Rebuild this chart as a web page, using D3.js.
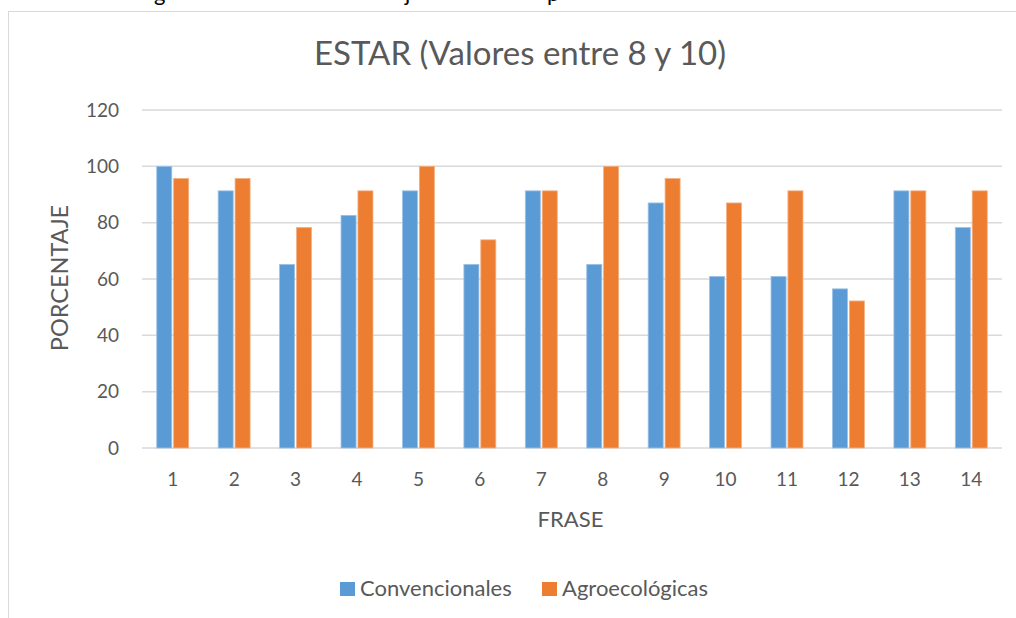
<!DOCTYPE html>
<html>
<head>
<meta charset="utf-8">
<script src="https://d3js.org/d3.v7.min.js"></script>
<style>
  body { margin: 0; background: #fff; }
  svg { display: block; font-family: "Lato", "Open Sans", sans-serif; }
</style>
</head>
<body>
<svg id="chart" width="1016" height="618"></svg>
<script>
var frases = ["1","2","3","4","5","6","7","8","9","10","11","12","13","14"];
var convencionales = [100, 91.3, 65.2, 82.6, 91.3, 65.2, 91.3, 65.2, 87.0, 60.9, 60.9, 56.5, 91.3, 78.3];
var agroecologicas = [95.7, 95.7, 78.3, 91.3, 100, 73.9, 91.3, 100, 95.7, 87.0, 91.3, 52.2, 91.3, 91.3];
var seriesNames = ["Convencionales", "Agroecológicas"];
var colors = ["#5b9bd5", "#ed7d31"];
var yTicks = [0, 20, 40, 60, 80, 100, 120];

var svg = d3.select("#chart");
var margin = {left: 142, right: 14, top: 110, bottom: 170};
var width = 1016 - margin.left - margin.right,
    height = 618 - margin.top - margin.bottom;

// bits of the page text above the chart, cut at the top edge
svg.append("g").attr("font-size", 22).attr("fill", "#000")
  .selectAll("text").data([["g", 154], ["j", 405], ["p", 547]]).join("text")
  .attr("x", function(d) { return d[1]; }).attr("y", 1).text(function(d) { return d[0]; });

// chart frame
svg.append("rect").attr("x", 8.5).attr("y", 11.5).attr("width", 1030).attr("height", 640)
  .attr("fill", "none").attr("stroke", "#d9d9d9");

var g = svg.append("g").attr("transform", "translate(" + margin.left + "," + margin.top + ")");

var x = d3.scaleBand().domain(frases).range([0, width]);
var y = d3.scaleLinear().domain([0, 120]).range([height, 0]);

var groups = ["c", "a"];
var inner = d3.scaleBand().domain(groups).range([x.bandwidth() * 0.24, x.bandwidth() * 0.76]).paddingInner(0.11);

g.append("g").selectAll("line").data(yTicks).join("line")
  .attr("x1", 0).attr("x2", width)
  .attr("y1", function(d) { return y(d); }).attr("y2", function(d) { return y(d); })
  .attr("stroke", "#d9d9d9").attr("stroke-width", 1.5);

var rows = frases.map(function(f, i) { return {f: f, c: convencionales[i], a: agroecologicas[i]}; });

groups.forEach(function(k, si) {
  g.append("g").selectAll("rect").data(rows).join("rect")
    .attr("x", function(d) { return x(d.f) + inner(k); })
    .attr("y", function(d) { return y(d[k]); })
    .attr("width", inner.bandwidth())
    .attr("height", function(d) { return y(0) - y(d[k]); })
    .attr("fill", colors[si])
    .attr("stroke", si == 0 ? "#9dc3e6" : "#f4b183").attr("stroke-width", 0.8);
});

var yAxis = g.append("g").call(d3.axisLeft(y).tickValues(yTicks).tickSize(0).tickPadding(23));
yAxis.select(".domain").remove();
yAxis.selectAll("text").attr("font-size", 19).attr("fill", "#595959").attr("font-family", "Lato");

var xAxis = g.append("g").attr("transform", "translate(0," + height + ")")
  .call(d3.axisBottom(x).tickSize(0).tickPadding(0));
xAxis.select(".domain").remove();
xAxis.selectAll("text").attr("font-size", 19).attr("fill", "#595959").attr("font-family", "Lato")
  .attr("dy", null).attr("y", 38);

svg.append("text").attr("x", 520).attr("y", 65).attr("text-anchor", "middle")
  .attr("font-size", 33).attr("fill", "#595959").text("ESTAR (Valores entre 8 y 10)");

svg.append("text").attr("transform", "translate(68,278) rotate(-90)").attr("text-anchor", "middle")
  .attr("font-size", 23.5).attr("fill", "#595959").text("PORCENTAJE");

svg.append("text").attr("x", 570.5).attr("y", 527).attr("text-anchor", "middle")
  .attr("font-size", 22).attr("fill", "#595959").text("FRASE");

var legend = svg.append("g").attr("transform", "translate(340,582)");
var lx = [0, 202];
seriesNames.forEach(function(n, i) {
  legend.append("rect").attr("x", lx[i]).attr("y", 0).attr("width", 15).attr("height", 14).attr("fill", colors[i]);
  legend.append("text").attr("x", lx[i] + 20).attr("y", 14).attr("font-size", 22).attr("fill", "#595959").text(n);
});
</script>
</body>
</html>
